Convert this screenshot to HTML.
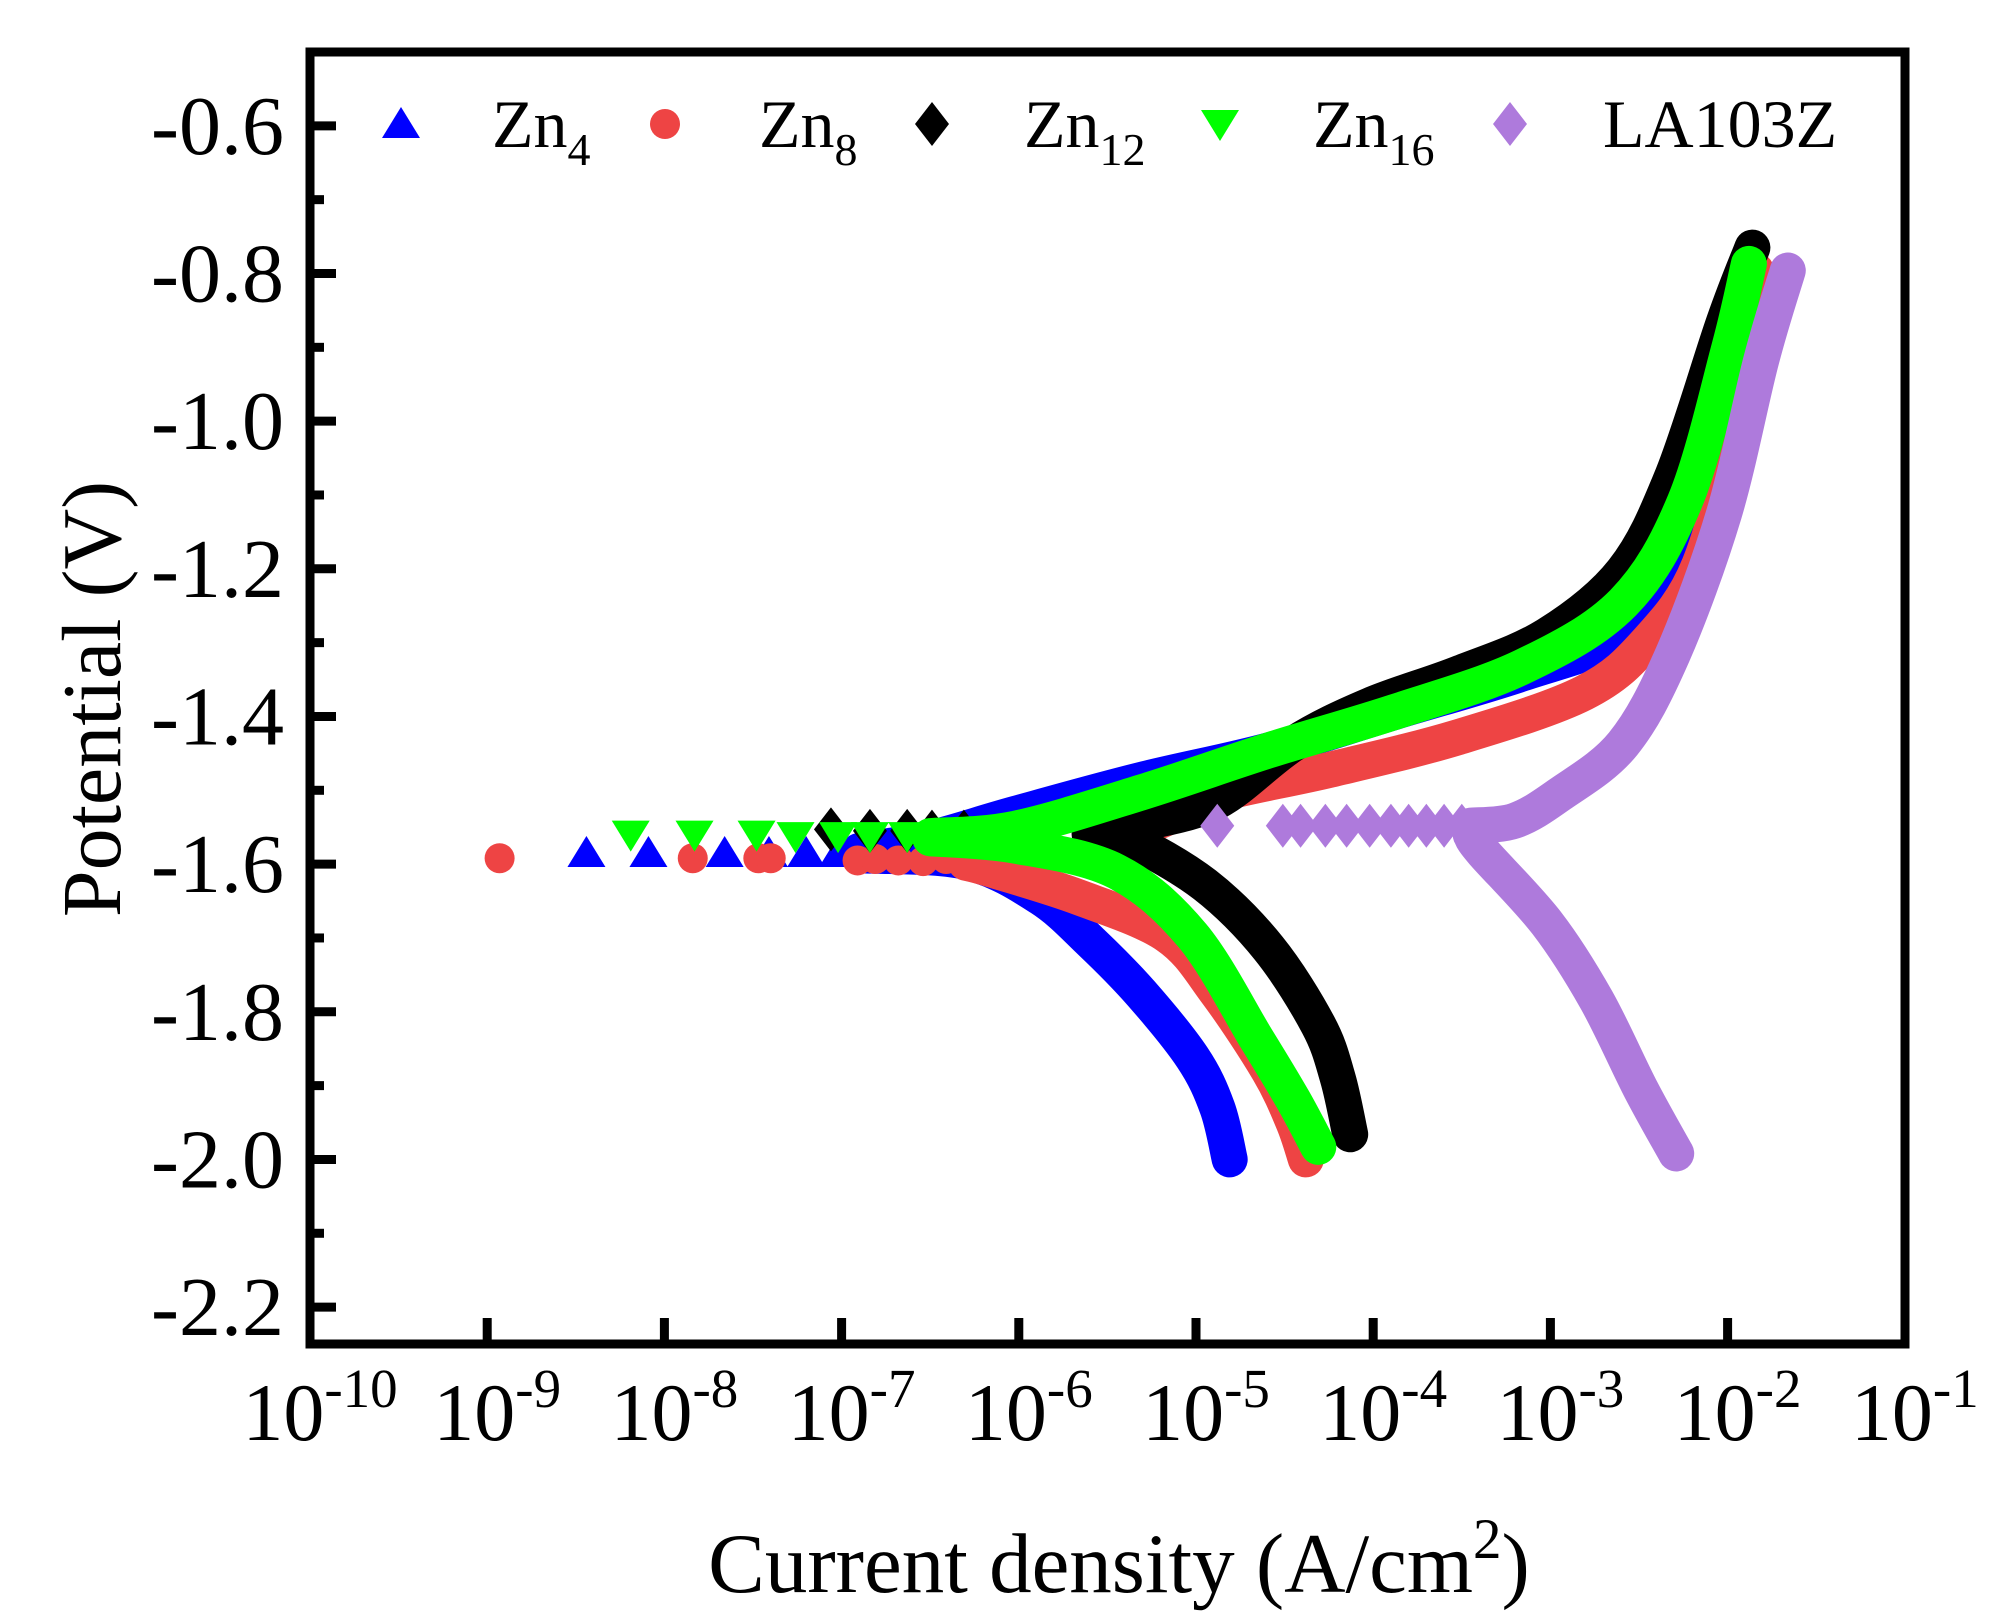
<!DOCTYPE html>
<html><head><meta charset="utf-8"><style>
html,body{margin:0;padding:0;background:#fff;}
svg{display:block;}
svg text{font-family:"Liberation Serif","Times New Roman",Times,serif;}
</style></head><body>
<svg id="chart" width="1990" height="1624" viewBox="0 0 1990 1624" xmlns="http://www.w3.org/2000/svg">
<g id="series"></g>
<g id="axes"></g>
<g id="legend"></g>
</svg>
<script>
const xDecades = [-10,-9,-8,-7,-6,-5,-4,-3,-2,-1];
const yTicks = [-0.6,-0.8,-1.0,-1.2,-1.4,-1.6,-1.8,-2.0,-2.2];
const yTickLabels = ["-0.6","-0.8","-1.0","-1.2","-1.4","-1.6","-1.8","-2.0","-2.2"];
const yMinor = [-0.7,-0.9,-1.1,-1.3,-1.5,-1.7,-1.9,-2.1];
const seriesNames = ["Zn4","Zn8","Zn12","Zn16","LA103Z"];
// log10(i), E pairs
const zn4Sparse = [[-8.44,-1.585],[-8.09,-1.585],[-7.66,-1.585],[-7.41,-1.585],[-7.2,-1.585],[-7.02,-1.585]];
const zn4Cath = [[-6.9,-1.588],[-6.3,-1.597],[-5.88,-1.645],[-5.59,-1.706],[-5.31,-1.775],[-5.02,-1.862],[-4.88,-1.93],[-4.81,-2.0]];
const zn4Anod = [[-6.9,-1.582],[-6.5,-1.565],[-6.02,-1.532],[-5.31,-1.486],[-4.59,-1.446],[-3.88,-1.394],[-3.16,-1.342],[-2.59,-1.29],[-2.3,-1.2],[-2.05,-1.02],[-1.88,-0.79]];
const zn8Sparse = [[-8.93,-1.592],[-7.84,-1.592],[-7.47,-1.592],[-7.4,-1.592],[-6.91,-1.595],[-6.81,-1.593],[-6.68,-1.595],[-6.54,-1.596],[-6.41,-1.593]];
const zn8Cath = [[-6.3,-1.598],[-6.16,-1.607],[-5.66,-1.645],[-5.16,-1.697],[-4.88,-1.775],[-4.59,-1.88],[-4.45,-1.95],[-4.38,-2.0]];
const zn8Anod = [[-5.45,-1.567],[-5.16,-1.537],[-4.88,-1.506],[-4.24,-1.472],[-3.52,-1.428],[-2.81,-1.368],[-2.45,-1.298],[-2.16,-1.195],[-1.95,-1.004],[-1.84,-0.796]];
const zn12Sparse = [[-7.06,-1.553],[-6.84,-1.555],[-6.63,-1.555],[-6.49,-1.556],[-6.31,-1.556]];
const zn12Cath = [[-5.6,-1.558],[-5.38,-1.567],[-4.95,-1.628],[-4.59,-1.714],[-4.31,-1.818],[-4.2,-1.89],[-4.13,-1.966]];
const zn12Anod = [[-5.6,-1.56],[-5.31,-1.545],[-4.88,-1.515],[-4.45,-1.437],[-4.02,-1.385],[-3.52,-1.342],[-3.02,-1.29],[-2.59,-1.203],[-2.31,-1.073],[-2.02,-0.865],[-1.86,-0.765]];
const zn16Sparse = [[-8.19,-1.56],[-7.83,-1.56],[-7.48,-1.56],[-7.26,-1.562],[-7.02,-1.562],[-6.84,-1.562],[-6.63,-1.562]];
const zn16Cath = [[-6.5,-1.565],[-6.02,-1.575],[-5.45,-1.61],[-5.02,-1.697],[-4.66,-1.836],[-4.45,-1.92],[-4.31,-1.983]];
const zn16Anod = [[-6.5,-1.562],[-6.02,-1.552],[-5.31,-1.503],[-4.59,-1.446],[-3.88,-1.394],[-3.16,-1.333],[-2.59,-1.246],[-2.24,-1.108],[-1.99,-0.9],[-1.88,-0.787]];
const laSparse = [[-4.88,-1.548],[-4.51,-1.548],[-4.41,-1.548],[-4.27,-1.548],[-4.15,-1.548],[-4.02,-1.548],[-3.9,-1.548],[-3.8,-1.548],[-3.7,-1.548],[-3.6,-1.548],[-3.5,-1.548]];
const laCath = [[-3.45,-1.56],[-3.38,-1.584],[-3.02,-1.68],[-2.74,-1.784],[-2.49,-1.905],[-2.29,-1.992]];
const laAnod = [[-3.45,-1.548],[-3.2,-1.541],[-2.95,-1.506],[-2.59,-1.437],[-2.31,-1.316],[-2.02,-1.125],[-1.81,-0.917],[-1.66,-0.796]];

const X0=310, DEC=177.2, Y0=52, PERV=738.3;
function xs(l){return X0+(l+10)*DEC;}
function ys(e){return Y0+(-0.5-e)*PERV;}
const NS="http://www.w3.org/2000/svg";
function mk(tag,attrs,parent){const e=document.createElementNS(NS,tag);for(const k in attrs)e.setAttribute(k,attrs[k]);parent.appendChild(e);return e;}
const gS=document.getElementById('series'), gA=document.getElementById('axes'), gL=document.getElementById('legend');

function marker(shape,cx,cy,color,parent){
  let el;
  if(shape==='tri') el=mk('polygon',{points:`${cx},${cy-17} ${cx-19},${cy+14} ${cx+19},${cy+14}`,fill:color},parent);
  else if(shape==='dtri') el=mk('polygon',{points:`${cx},${cy+17} ${cx-19},${cy-14} ${cx+19},${cy-14}`,fill:color},parent);
  else if(shape==='circ') el=mk('circle',{cx:cx,cy:cy,r:15,fill:color},parent);
  else el=mk('polygon',{points:`${cx},${cy-22} ${cx+17},${cy} ${cx},${cy+22} ${cx-17},${cy}`,fill:color},parent);
  return el;
}
function smoothPath(pts){
  const P=pts.map(p=>[xs(p[0]),ys(p[1])]);
  let d='M'+P[0][0].toFixed(1)+','+P[0][1].toFixed(1);
  for(let i=0;i<P.length-1;i++){
    const p0=P[i-1]||P[i], p1=P[i], p2=P[i+1], p3=P[i+2]||P[i+1];
    const c1=[p1[0]+(p2[0]-p0[0])/6, p1[1]+(p2[1]-p0[1])/6];
    const c2=[p2[0]-(p3[0]-p1[0])/6, p2[1]-(p3[1]-p1[1])/6];
    d+=` C${c1[0].toFixed(1)},${c1[1].toFixed(1)} ${c2[0].toFixed(1)},${c2[1].toFixed(1)} ${p2[0].toFixed(1)},${p2[1].toFixed(1)}`;
  }
  return d;
}
function branch(pts,color,name){
  const p=mk('path',{d:smoothPath(pts),fill:'none',stroke:color,'stroke-width':36,'stroke-linejoin':'round','stroke-linecap':'round'},gS);
  
  
}
function sparse(pts,shape,color,name){
  pts.forEach(p=>{
    const m=marker(shape,xs(p[0]),ys(p[1]),color,gS);
    
    
  });
}
const series=[
 {s:zn4Sparse,c:zn4Cath,a:zn4Anod,col:'#0000ff',sh:'tri',n:'zn4'},
 {s:zn8Sparse,c:zn8Cath,a:zn8Anod,col:'#ee4444',sh:'circ',n:'zn8'},
 {s:zn12Sparse,c:zn12Cath,a:zn12Anod,col:'#000000',sh:'dia',n:'zn12'},
 {s:zn16Sparse,c:zn16Cath,a:zn16Anod,col:'#00ff00',sh:'dtri',n:'zn16'},
 {s:laSparse,c:laCath,a:laAnod,col:'#ae7adc',sh:'dia',n:'la103z'}
];
series.forEach(o=>{
  branch(o.c,o.col,o.n+'-cathodic-branch');
  branch(o.a,o.col,o.n+'-anodic-branch');
  sparse(o.s,o.sh,o.col,o.n+'-point');
});

const fr=mk('rect',{x:310,y:52,width:1595,height:1292,fill:'none',stroke:'#000','stroke-width':9},gA);


xDecades.forEach((d,i)=>{
  const x=xs(d);
  if(i>0&&i<xDecades.length-1){
    const t=mk('line',{x1:x,x2:x,y1:1344,y2:1318,stroke:'#000','stroke-width':9},gA);
    
    
  }
  const tx=mk('text',{x:x+10,y:1440,'font-size':82,'text-anchor':'middle'},gA);
  
  
  tx.innerHTML='10<tspan dy="-33" font-size="55">'+d+'</tspan>';
});
yTicks.forEach((v,i)=>{
  const y=ys(v);
  const t=mk('line',{x1:310,x2:336,y1:y,y2:y,stroke:'#000','stroke-width':9},gA);
  
  
  const tx=mk('text',{x:284,y:y+28,'font-size':84,'text-anchor':'end'},gA);
  
  
  tx.textContent=yTickLabels[i];
});
yMinor.forEach(v=>{
  const y=ys(v);
  const t=mk('line',{x1:310,x2:324,y1:y,y2:y,stroke:'#000','stroke-width':9},gA);
  
  
});
const yt=mk('text',{x:0,y:0,'font-size':84,'text-anchor':'middle',transform:'translate(120,699) rotate(-90)'},gA);


yt.textContent='Potential (V)';
const xt=mk('text',{x:1119,y:1592,'font-size':85,'text-anchor':'middle'},gA);


xt.innerHTML='Current density (A/cm<tspan dy="-34" font-size="57">2</tspan><tspan dy="34">)</tspan>';

const legX=[401,665,932,1220,1510], labX=[492,759,1024,1313,1603];
const labMain=['Zn','Zn','Zn','Zn','LA103Z'], labSub=['4','8','12','16',''];
series.forEach((o,i)=>{
  const m=marker(o.sh,legX[i],124,o.col,gL);
  
  
  const t=mk('text',{x:labX[i],y:147,'font-size':68},gL);
  
  
  t.innerHTML=labMain[i]+(labSub[i]?'<tspan dy="18" font-size="46">'+labSub[i]+'</tspan>':'');
});
</script>
</body></html>
